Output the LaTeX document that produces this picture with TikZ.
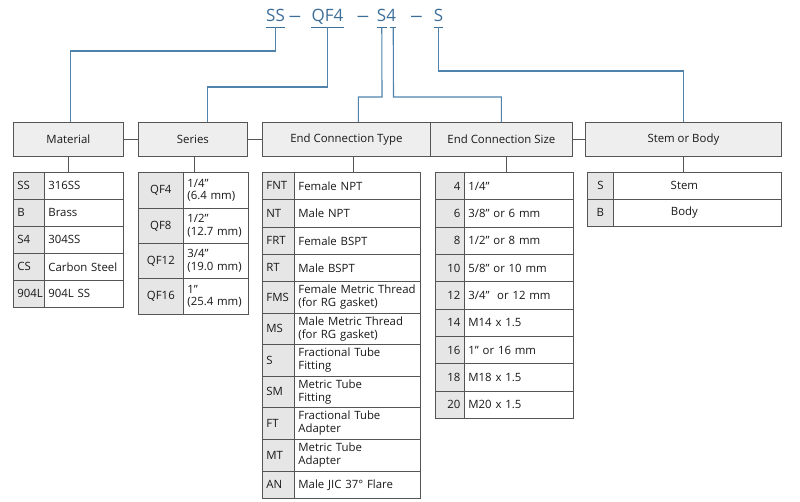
\documentclass[tikz,border=0pt]{standalone}
\usepackage{fontspec}
\usepackage{graphicx}
\setmainfont{Open Sans}
\usetikzlibrary{calc}
\definecolor{codeblue}{HTML}{3C6E98}
\definecolor{connblue}{HTML}{4F83AB}
\definecolor{bord}{HTML}{555555}
\definecolor{hdrfill}{HTML}{EEEEEE}
\definecolor{keyfill}{HTML}{E6E6E6}
\newcommand\tcell[7]{%
 \pgfmathsetmacro\cw{#5-#3}\pgfmathsetmacro\ch{#6-#4}\pgfmathsetmacro\tw{#5-#3-8}%
 \node[cell,#2,minimum width=\cw pt,minimum height=\ch pt,text width=\tw pt] (#1) at (#3,#4) {#7};}
\newcommand\hcell[6]{%
 \pgfmathsetmacro\cw{#4-#2}\pgfmathsetmacro\ch{#5-#3}%
 \node[hdr,minimum width=\cw pt,minimum height=\ch pt] (#1) at (#2,#3) {#6};}
\tikzset{
 cell/.style={draw=bord,line width=0.75pt,anchor=north west,inner xsep=4pt,inner ysep=0pt,
   font=\fontsize{11.4}{12.8}\selectfont,text=black!90},
 keyL/.style={fill=keyfill,align=left},
 keyR/.style={fill=keyfill,align=right},
 keyC/.style={fill=keyfill,align=center},
 valL/.style={fill=white,align=left},
 valC/.style={fill=white,align=center},
 hdr/.style={draw=bord,line width=0.75pt,fill=hdrfill,anchor=north west,inner sep=0pt,
   font=\fontsize{11.4}{13}\selectfont,text=black!90},
 code/.style={anchor=base,inner sep=0pt,text=codeblue,font=\fontsize{17}{20}\selectfont},
 ul/.style={draw=codeblue,line width=1.1pt},
 conn/.style={draw=connblue,line width=1.1pt},
 link/.style={draw=bord,line width=0.8pt}
}
\begin{document}
\begin{tikzpicture}[x=1pt,y=-1pt]
\useasboundingbox (0,0) rectangle (800,502);
% code line
\node[code] (cSS) at (275.5,22) {SS};
\node[code] (d1) at (295,22) {\scalebox{1.5}[1]{–}};
\node[code] (cQF) at (327.5,22) {QF4};
\node[code] (d2) at (363,22) {\scalebox{1.5}[1]{–}};
\node[code] (cS4) at (386.5,22) {S4};
\node[code] (d3) at (416.5,22) {\scalebox{1.5}[1]{–}};
\node[code] (cS) at (438.5,22) {S};
\draw[ul] ([yshift=-5.5pt]cSS.base west) -- ([yshift=-5.5pt]cSS.base east);
\draw[ul] ([yshift=-5.5pt]cQF.base west) -- ([yshift=-5.5pt]cQF.base east);
\draw[ul] ([yshift=-5.5pt]cS4.base west) -- ([yshift=-5.5pt,xshift=10pt]cS4.base west);
\draw[ul] ([yshift=-5.5pt,xshift=-6pt]cS4.base east) -- ([yshift=-5.5pt]cS4.base east);
\draw[ul] ([yshift=-5.5pt]cS.base west) -- ([yshift=-5.5pt]cS.base east);
\coordinate (uSS) at ([yshift=-5.5pt]cSS.base);
\coordinate (uQF) at ([yshift=-5.5pt]cQF.base);
\coordinate (uS4a) at ([yshift=-5.5pt,xshift=5pt]cS4.base west);
\coordinate (uS4b) at ([yshift=-5.5pt,xshift=-3pt]cS4.base east);
\coordinate (uS) at ([yshift=-5.5pt]cS.base);
% headers
\hcell{mat}{13}{122}{123}{156}{Material}
\hcell{ser}{138}{122}{247}{156}{Series}
\hcell{ect}{262}{122}{430}{156}{\raisebox{2pt}{End Connection Type}}
\hcell{ecs}{430}{122}{572}{156}{End Connection Size}
\hcell{stb}{585}{122}{781}{156}{\raisebox{1pt}{Stem or Body}}
\draw[link] (mat.east) -- (ser.west);
\draw[link] (ser.east) -- (ect.west);
\draw[link] (ecs.east) -- (stb.west);
% bend points
\coordinate (bSS) at (275.5,51);
\coordinate (bQF) at (327.5,87);
\coordinate (bS4a) at (382,97);
\coordinate (bS4b) at (393.5,97);
\coordinate (bS) at (438.5,71);
\draw[conn] (uSS) -- (bSS) -| ([xshift=2.5pt]mat.north);
\draw[conn] (uQF) -- (bQF) -| ([xshift=14.5pt]ser.north);
\draw[conn] (uS4a) -- (bS4a) -| ([xshift=12pt]ect.north);
\draw[conn] (uS4b) -- (bS4b) -| (ecs.north);
\draw[conn] (uS) -- (bS) -| (stb.north);
% Material table
\tcell{mk1}{keyL}{13}{172}{44}{199}{SS}
\tcell{mv1}{valL}{44}{172}{123}{199}{316SS}
\tcell{mk2}{keyL}{13}{199}{44}{226}{B}
\tcell{mv2}{valL}{44}{199}{123}{226}{Brass}
\tcell{mk3}{keyL}{13}{226}{44}{253}{S4}
\tcell{mv3}{valL}{44}{226}{123}{253}{304SS}
\tcell{mk4}{keyL}{13}{253}{44}{280}{CS}
\tcell{mv4}{valL}{44}{253}{123}{280}{Carbon Steel}
\tcell{mk5}{keyL}{13}{280}{44}{307}{904L}
\tcell{mv5}{valL}{44}{280}{123}{307}{904L SS}
% Series table
\tcell{sk1}{keyC}{138}{172}{183}{208}{QF4}
\tcell{sv1}{valL}{183}{172}{248}{208}{1/4"\\(6.4 mm)}
\tcell{sk2}{keyC}{138}{208}{183}{243}{QF8}
\tcell{sv2}{valL}{183}{208}{248}{243}{1/2"\\(12.7 mm)}
\tcell{sk3}{keyC}{138}{243}{183}{278}{QF12}
\tcell{sv3}{valL}{183}{243}{248}{278}{3/4"\\(19.0 mm)}
\tcell{sk4}{keyC}{138}{278}{183}{314}{QF16}
\tcell{sv4}{valL}{183}{278}{248}{314}{1"\\(25.4 mm)}
% End connection type table
\tcell{ek1}{keyL}{262}{172}{294}{199}{FNT}
\tcell{ev1}{valL}{294}{172}{420}{199}{Female NPT}
\tcell{ek2}{keyL}{262}{199}{294}{227}{NT}
\tcell{ev2}{valL}{294}{199}{420}{227}{Male NPT}
\tcell{ek3}{keyL}{262}{227}{294}{254}{FRT}
\tcell{ev3}{valL}{294}{227}{420}{254}{Female BSPT}
\tcell{ek4}{keyL}{262}{254}{294}{281}{RT}
\tcell{ev4}{valL}{294}{254}{420}{281}{Male BSPT}
\tcell{ek5}{keyL}{262}{281}{294}{313}{FMS}
\tcell{ev5}{valL}{294}{281}{420}{313}{Female Metric Thread\\(for RG gasket)}
\tcell{ek6}{keyL}{262}{313}{294}{344}{MS}
\tcell{ev6}{valL}{294}{313}{420}{344}{Male Metric Thread\\(for RG gasket)}
\tcell{ek7}{keyL}{262}{344}{294}{376}{S}
\tcell{ev7}{valL}{294}{344}{420}{376}{Fractional Tube\\Fitting}
\tcell{ek8}{keyL}{262}{376}{294}{407}{SM}
\tcell{ev8}{valL}{294}{376}{420}{407}{Metric Tube\\Fitting}
\tcell{ek9}{keyL}{262}{407}{294}{439}{FT}
\tcell{ev9}{valL}{294}{407}{420}{439}{Fractional Tube\\Adapter}
\tcell{ek10}{keyL}{262}{439}{294}{471}{MT}
\tcell{ev10}{valL}{294}{439}{420}{471}{Metric Tube\\Adapter}
\tcell{ek11}{keyL}{262}{471}{294}{498}{AN}
\tcell{ev11}{valL}{294}{471}{420}{498}{Male JIC 37° Flare}
% End connection size table
\tcell{zk1}{keyR}{435}{172}{464}{199.3}{4}
\tcell{zv1}{valL}{464}{172}{573}{199.3}{1/4"}
\tcell{zk2}{keyR}{435}{199.3}{464}{226.7}{6}
\tcell{zv2}{valL}{464}{199.3}{573}{226.7}{3/8" or 6 mm}
\tcell{zk3}{keyR}{435}{226.7}{464}{254}{8}
\tcell{zv3}{valL}{464}{226.7}{573}{254}{1/2" or 8 mm}
\tcell{zk4}{keyR}{435}{254}{464}{281.3}{10}
\tcell{zv4}{valL}{464}{254}{573}{281.3}{5/8" or 10 mm}
\tcell{zk5}{keyR}{435}{281.3}{464}{308.7}{12}
\tcell{zv5}{valL}{464}{281.3}{573}{308.7}{3/4"\ \ or 12 mm}
\tcell{zk6}{keyR}{435}{308.7}{464}{336}{14}
\tcell{zv6}{valL}{464}{308.7}{573}{336}{M14 x 1.5}
\tcell{zk7}{keyR}{435}{336}{464}{363.3}{16}
\tcell{zv7}{valL}{464}{336}{573}{363.3}{1" or 16 mm}
\tcell{zk8}{keyR}{435}{363.3}{464}{390.7}{18}
\tcell{zv8}{valL}{464}{363.3}{573}{390.7}{M18 x 1.5}
\tcell{zk9}{keyR}{435}{390.7}{464}{418}{20}
\tcell{zv9}{valL}{464}{390.7}{573}{418}{M20 x 1.5}
% Stem or body table
\tcell{bk1}{keyC}{587}{172}{613}{199}{S}
\tcell{bv1}{valC}{613}{172}{781}{199}{Stem\hspace*{26pt}}
\tcell{bk2}{keyC}{587}{199}{613}{226}{B}
\tcell{bv2}{valC}{613}{199}{781}{226}{Body\hspace*{26pt}}
% header-to-table links
\draw[link] (mat.south) -- (mat.south |- mk1.north);
\draw[link] ([xshift=1.5pt]ser.south) -- ([xshift=1.5pt]ser.south |- sk1.north);
\draw[link] ([xshift=7pt]ect.south) -- ([xshift=7pt]ect.south |- ek1.north);
\draw[link] ([xshift=5pt]ecs.south) -- ([xshift=5pt]ecs.south |- zk1.north);
\draw[link] (stb.south) -- (stb.south |- bk1.north);
\end{tikzpicture}
\end{document}
